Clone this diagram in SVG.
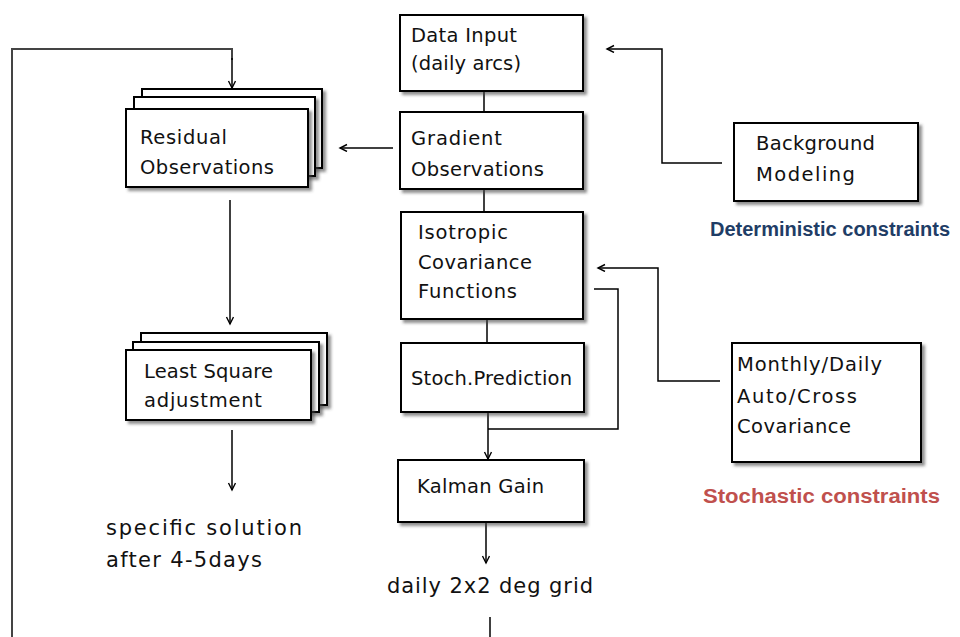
<svg xmlns="http://www.w3.org/2000/svg" width="960" height="637" viewBox="0 0 960 637">
<defs>
<filter id="sh" x="-10%" y="-10%" width="125%" height="130%">
<feDropShadow dx="3" dy="3" stdDeviation="1.5" flood-color="#444" flood-opacity="0.6"/>
</filter>
<marker id="ah" markerWidth="10" markerHeight="10" refX="8" refY="4" orient="auto" markerUnits="userSpaceOnUse">
<path d="M1,0.5 L8,4 L1,7.5" fill="none" stroke="#000" stroke-width="1.4"/>
</marker>
<style>
.box{fill:#fff;stroke:#000;stroke-width:2;filter:url(#sh)}
.ln{fill:none;stroke:#000;stroke-width:1.5}
.arr{fill:none;stroke:#000;stroke-width:1.5;marker-end:url(#ah)}
.gry{fill:none;stroke:#444;stroke-width:2}
.t{font-family:"DejaVu Sans","Liberation Sans",sans-serif;font-size:19.5px;fill:#111}
.tb{font-family:"DejaVu Sans","Liberation Sans",sans-serif;font-size:21px;fill:#111}
.lbl{font-family:"Liberation Sans","DejaVu Sans",sans-serif;font-size:20px;font-weight:bold}
</style>
</defs>

<g id="connectors">
<polyline class="gry" points="12,637 12,49 232,49 232,60"/>
<line class="arr" x1="232" y1="58" x2="232" y2="88"/>
<line class="ln" x1="484" y1="91" x2="484" y2="112"/>
<line class="ln" x1="484" y1="189" x2="484" y2="212"/>
<line class="ln" x1="487" y1="319" x2="487" y2="343"/>
<line class="arr" x1="393" y1="148" x2="340" y2="148"/>
<line class="arr" x1="230" y1="200" x2="230" y2="324"/>
<line class="arr" x1="232" y1="430" x2="232" y2="490"/>
<line class="arr" x1="488" y1="412" x2="488" y2="459"/>
<polyline class="ln" points="594,289 618,289 618,429 488,429"/>
<polyline class="arr" points="720,381 658,381 658,268 598,268"/>
<polyline class="arr" points="722,163 662,163 662,49 607,49"/>
<line class="arr" x1="486" y1="522" x2="486" y2="563"/>
<line class="ln" x1="490" y1="617" x2="490" y2="637"/>
</g>

<g id="residual">
<rect class="box" x="142" y="89" width="180" height="79"/>
<rect class="box" x="134" y="97" width="181" height="79"/>
<rect class="box" x="126" y="109" width="182" height="78"/>
<text class="t" x="140" y="144" textLength="87" lengthAdjust="spacing">Residual</text>
<text class="t" x="140" y="174" textLength="134" lengthAdjust="spacing">Observations</text>
</g>

<g id="leastsquare">
<rect class="box" x="141" y="333" width="186" height="72"/>
<rect class="box" x="133" y="342" width="186" height="70"/>
<rect class="box" x="126" y="350" width="185" height="70"/>
<text class="t" x="144" y="378" textLength="129" lengthAdjust="spacing">Least Square</text>
<text class="t" x="144" y="407" textLength="118" lengthAdjust="spacing">adjustment</text>
</g>

<g id="solution">
<text class="tb" x="106" y="535" textLength="196" lengthAdjust="spacing">specific solution</text>
<text class="tb" x="106" y="567" textLength="156" lengthAdjust="spacing">after 4-5days</text>
</g>

<g id="datainput">
<rect class="box" x="400" y="15" width="183" height="76"/>
<text class="t" x="411" y="42" textLength="106" lengthAdjust="spacing">Data Input</text>
<text class="t" x="411" y="70" textLength="110" lengthAdjust="spacing">(daily arcs)</text>
</g>

<g id="gradient">
<rect class="box" x="400" y="112" width="183" height="77"/>
<text class="t" x="411" y="145" textLength="91" lengthAdjust="spacing">Gradient</text>
<text class="t" x="411" y="176" textLength="133" lengthAdjust="spacing">Observations</text>
</g>

<g id="isotropic">
<rect class="box" x="401" y="212" width="182" height="107"/>
<text class="t" x="418" y="239" textLength="90" lengthAdjust="spacing">Isotropic</text>
<text class="t" x="418" y="269" textLength="114" lengthAdjust="spacing">Covariance</text>
<text class="t" x="418" y="298" textLength="99" lengthAdjust="spacing">Functions</text>
</g>

<g id="stoch">
<rect class="box" x="401" y="343" width="183" height="69"/>
<text class="t" x="411" y="385" textLength="161" lengthAdjust="spacing">Stoch.Prediction</text>
</g>

<g id="kalman">
<rect class="box" x="398" y="460" width="186" height="62"/>
<text class="t" x="417" y="493" textLength="127" lengthAdjust="spacing">Kalman Gain</text>
</g>

<g id="grid">
<text class="tb" x="387" y="593" textLength="206" lengthAdjust="spacing">daily 2x2 deg grid</text>
</g>

<g id="background">
<rect class="box" x="734" y="123" width="184" height="78"/>
<text class="t" x="756" y="150" textLength="119" lengthAdjust="spacing">Background</text>
<text class="t" x="756" y="181" textLength="99" lengthAdjust="spacing">Modeling</text>
</g>

<g id="deterministic">
<text class="lbl" x="710" y="236" fill="#1f3d66">Deterministic constraints</text>
</g>

<g id="monthly">
<rect class="box" x="732" y="343" width="189" height="119"/>
<text class="t" x="737" y="371" textLength="145" lengthAdjust="spacing">Monthly/Daily</text>
<text class="t" x="737" y="403" textLength="120" lengthAdjust="spacing">Auto/Cross</text>
<text class="t" x="737" y="433" textLength="114" lengthAdjust="spacing">Covariance</text>
</g>

<g id="stochastic">
<text class="lbl" x="703" y="503" fill="#c0504d" textLength="237" lengthAdjust="spacingAndGlyphs">Stochastic  constraints</text>
</g>
</svg>
